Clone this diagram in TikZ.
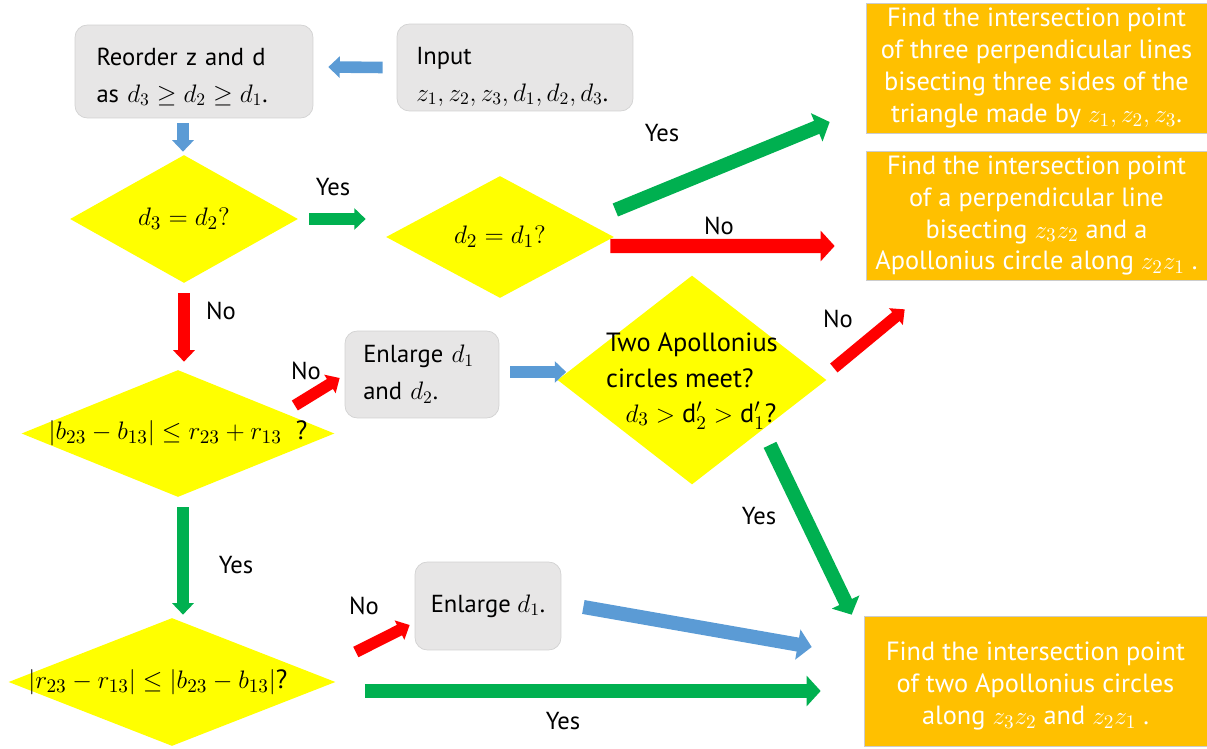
\documentclass[tikz,border=0pt]{standalone}
\usepackage{fontspec}
\setmainfont{PT Sans}
\usepackage{amsmath}
\usepackage{amssymb}
\usetikzlibrary{shapes.geometric,arrows.meta}

\definecolor{arrblue}{HTML}{5B9BD5}
\definecolor{arrgreen}{HTML}{00B050}
\definecolor{arrred}{HTML}{FF0000}
\definecolor{dmdyellow}{HTML}{FFFF00}
\definecolor{boxorange}{HTML}{FFC000}
\definecolor{boxgray}{HTML}{E7E6E6}

\tikzset{
  graybox/.style={draw=gray!35, fill=boxgray, rounded corners=7pt, align=left, inner sep=0pt},
  orangebox/.style={draw=gray!40, fill=boxorange, text=white, align=center, inner sep=0pt,
    font=\fontsize{15}{18.2}\selectfont},
  dmd/.style={diamond, fill=dmdyellow, inner sep=0pt, font=\fontsize{15}{20}\selectfont},
  thinarr/.style={line width=6.6pt, -{Triangle[width=12pt,length=6.5pt]}},
  bigarr/.style={line width=8pt, -{Triangle[width=17pt,length=8pt]}}
}

\begin{document}
\begin{tikzpicture}[x=0.02cm,y=-0.02cm,font=\fontsize{14}{21}\selectfont]
\useasboundingbox (0,0) rectangle (1207,749);

% process boxes
\node [graybox, minimum width=4.76cm, minimum height=1.86cm, text width=3.9cm] (reo) at (194,71.5)
  {\rule{0pt}{16pt}Reorder z and d\\ as $d_3 \geq d_2 \geq d_1$.};
\node [graybox, minimum width=4.72cm, minimum height=1.74cm, text width=3.95cm] (inp) at (515,67.5)
  {\rule{0pt}{20pt}Input\\ $z_1,z_2,z_3,d_1,d_2,d_3$.};
\node [graybox, minimum width=3.08cm, minimum height=1.74cm, text width=2.35cm] (e12) at (422,374.5)
  {Enlarge $d_1$\\ and $d_2$.};
\node [graybox, minimum width=2.92cm, minimum height=1.76cm, align=center] (e1) at (488,606)
  {Enlarge $d_1$.};

% decisions
\node [dmd, minimum width=4.56cm, minimum height=2.56cm] (d1) at (184,219)
  {\makebox[0pt]{\raisebox{-3pt}{$d_3 = d_2?$}}};
\node [dmd, minimum width=4.56cm, minimum height=2.44cm] (d2) at (500,237)
  {\makebox[0pt]{\raisebox{-2pt}{$d_2 = d_1?$}}};
\node [dmd, minimum width=6.26cm, minimum height=2.54cm] (d3) at (178,433.5)
  {\makebox[0pt]{$|b_{23} - b_{13}| \leq r_{23} + r_{13}$\ \ ?}};
\node [dmd, minimum width=5.38cm, minimum height=4.18cm] (d4) at (692,380)
  {\makebox[0pt]{\raisebox{-4pt}{\begin{tabular}{@{}l@{}}Two Apollonius\\ circles meet?\\
   \hspace*{11pt}$d_3 > \mathrm{d}_2' > \mathrm{d}_1'$?\end{tabular}}}};
\node [dmd, minimum width=6.54cm, minimum height=2.56cm] (d5) at (172,682)
  {\makebox[0pt]{$|r_{23} - r_{13}| \leq |b_{23} - b_{13}|$?\hspace*{16pt}}};

% results
\node [orangebox, minimum width=6.82cm, minimum height=2.6cm] (o1) at (1036.5,68)
  {Find the intersection point\\ of three perpendicular lines\\ bisecting three sides of the\\
   triangle made by $z_1,z_2,z_3$.};
\node [orangebox, minimum width=6.82cm, minimum height=2.58cm] (o2) at (1036.5,215.5)
  {Find the intersection point\\ of a perpendicular line\\ bisecting $z_3z_2$ and a\\
   Apollonius circle along $z_2z_1$\ .};
\node [orangebox, minimum width=6.86cm, minimum height=2.6cm] (o3) at (1035.5,681)
  {\rule{0pt}{16pt}Find the intersection point\\ of two Apollonius circles\\ along $z_3z_2$ and $z_2z_1$\ .};

% labels
\node (yes1) at (333,187) {Yes};
\node (yes2) at (662,133) {Yes};
\node (no1) at (719,226) {No};
\node (no2) at (221,311) {No};
\node (no3) at (306,371) {No};
\node (no4) at (838,319) {No};
\node (yes3) at (759,516) {Yes};
\node (yes4) at (236,565) {Yes};
\node (no5) at (364,606) {No};
\node (yes5) at (563,721) {Yes};

% arrows
\draw [thinarr, arrblue] ([shift={(-14,0)}]inp.west) -- ([shift={(15,-4.5)}]reo.east);
\draw [thinarr, arrblue] ([shift={(-11,5)}]reo.south) -- ([shift={(-1,-3)}]d1.north);
\draw [thinarr, arrgreen] ([shift={(11,0)}]d1.east) -- ([shift={(-20,-18)}]d2.west);
\draw [bigarr, arrgreen] ([shift={(1,-27)}]d2.east) -- ([shift={(-36,54)}]o1.west);
\draw [bigarr, arrred] ([shift={(-4,9)}]d2.east) -- ([shift={(-31,30.5)}]o2.west);
\draw [thinarr, arrred] ([shift={(0,10)}]d1.south) -- ([shift={(6,-8)}]d3.north);
\draw [thinarr, arrred] ([shift={(-40,-28)}]d3.east) -- ([shift={(-5,3.5)}]e12.west);
\draw [thinarr, arrblue] ([shift={(11,-2.5)}]e12.east) -- ([shift={(9,-8)}]d4.west);
\draw [thinarr, arrred] ([shift={(7,-12)}]d4.east) -- ([shift={(39,29)}]o2.south west);
\draw [bigarr, arrgreen] ([shift={(78,-40)}]d4.south) -- ([shift={(-12,-1)}]o3.north west);
\draw [thinarr, arrgreen] ([shift={(5,10)}]d3.south) -- ([shift={(11,-3)}]d5.north);
\draw [thinarr, arrred] ([shift={(20,-30)}]d5.east) -- ([shift={(-5,19)}]e1.west);
\draw [bigarr, arrblue] ([shift={(22,1)}]e1.east) -- ([shift={(-52,-34)}]o3.west);
\draw [bigarr, arrgreen] ([shift={(29,9)}]d5.east) -- ([shift={(-43,10)}]o3.west);

\end{tikzpicture}
\end{document}
